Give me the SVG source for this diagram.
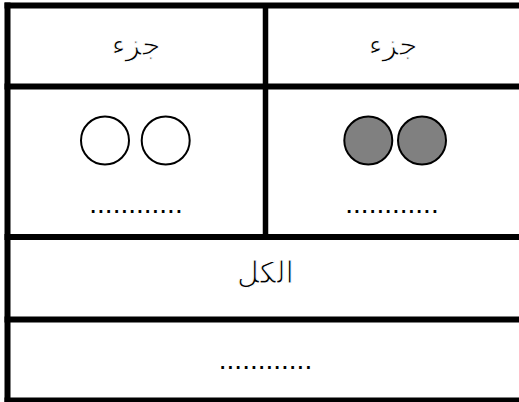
<svg xmlns="http://www.w3.org/2000/svg" width="519" height="402" viewBox="0 0 519 402">
<style>
.ln{stroke:#000;fill:none}
.t{font-family:"DejaVu Sans",sans-serif;font-size:30px;fill:#000;stroke:#fff;stroke-width:1px;text-anchor:middle}
.d{font-family:"Liberation Sans",sans-serif;font-size:28px;fill:#000;text-anchor:middle}
.c{stroke:#000;stroke-width:2}
</style>
<rect width="519" height="402" fill="#fff"/>
<g id="grid">
<line class="ln" x1="4.5" y1="5.5" x2="519" y2="5.5" stroke-width="6"/>
<line class="ln" x1="7.5" y1="2.5" x2="7.5" y2="402" stroke-width="6"/>
<line class="ln" x1="4.5" y1="400" x2="519" y2="400" stroke-width="5"/>
<line class="ln" x1="4.5" y1="86.5" x2="519" y2="86.5" stroke-width="6"/>
<line class="ln" x1="4.5" y1="237" x2="519" y2="237" stroke-width="6"/>
<line class="ln" x1="4.5" y1="319.5" x2="519" y2="319.5" stroke-width="6"/>
<line class="ln" x1="265.5" y1="5" x2="265.5" y2="238" stroke-width="5.5"/>
</g>
<g id="part-left">
<text class="t" x="136" y="55">جزء</text>
<circle class="c" cx="105" cy="140.5" r="24" fill="#fff"/>
<circle class="c" cx="165.7" cy="140.5" r="24" fill="#fff"/>
<text class="d" x="136" y="213">............</text>
</g>
<g id="part-right">
<text class="t" x="393" y="55">جزء</text>
<circle class="c" cx="368.3" cy="140.5" r="24" fill="#808080"/>
<circle class="c" cx="422" cy="140.5" r="24" fill="#808080"/>
<text class="d" x="392" y="213">............</text>
</g>
<g id="whole">
<text class="t" x="265.5" y="283">الكل</text>
<text class="d" x="265.5" y="369">............</text>
</g>
</svg>
